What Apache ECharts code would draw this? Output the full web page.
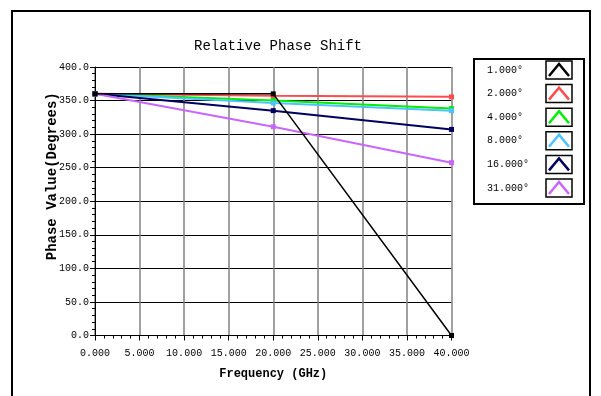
<!DOCTYPE html>
<html>
<head>
<meta charset="utf-8">
<script src="https://cdn.jsdelivr.net/npm/echarts@6/dist/echarts.min.js"></script>
<style>
html,body{margin:0;padding:0;background:#fff;}
#chart{width:601px;height:396px;}
</style>
</head>
<body>
<div id="chart"></div>
<script>
// ---- data ----
const frequency = [0, 20, 40];
const seriesNames = ['1.000°', '2.000°', '4.000°', '8.000°', '16.000°', '31.000°'];
const seriesColors = ['#000000', '#ff4d4d', '#00ee00', '#4cc3ff', '#00005e', '#c866ff'];
const phase1 = [360, 360, 0];
const phase2 = [360, 357, 355.5];
const phase4 = [360, 350, 338];
const phase8 = [360, 346.5, 335];
const phase16 = [360, 335, 307];
const phase31 = [360, 311, 257.5];
const seriesValues = [phase1, phase2, phase4, phase8, phase16, phase31];
const titleText = 'Relative Phase Shift';
const xName = 'Frequency (GHz)';
const yName = 'Phase Value(Degrees)';

const MONO = '"Liberation Mono", "DejaVu Sans Mono", monospace';

const series = seriesNames.map((name, i) => ({
  name: name,
  type: 'line',
  data: frequency.map((f, j) => [f, seriesValues[i][j]]),
  symbol: 'rect',
  symbolSize: 5,
  showAllSymbol: true,
  z: i === 0 ? 5 : 3,
  lineStyle: { color: seriesColors[i], width: i === 0 ? 1.5 : 2 },
  itemStyle: { color: seriesColors[i] },
  emphasis: { disabled: true }
}));

// legend built as graphics from the names/colors arrays
const legendGraphics = [];
const lgX = 474, lgY = 59, lgW = 110, lgH = 145;
legendGraphics.push({
  type: 'rect', shape: { x: lgX, y: lgY, width: lgW, height: lgH },
  style: { fill: '#fff', stroke: '#000', lineWidth: 2 }, z: 10
});
seriesNames.forEach((name, i) => {
  const cy = 70 + i * 23.6;
  legendGraphics.push({
    type: 'text', x: 487, y: cy, z: 11,
    style: { text: name, font: '10px ' + MONO, fill: '#000', verticalAlign: 'middle', align: 'left' }
  });
  legendGraphics.push({
    type: 'rect', shape: { x: 546, y: cy - 9, width: 26, height: 18 }, z: 11,
    style: { fill: '#fff', stroke: '#000', lineWidth: 1.5 }
  });
  legendGraphics.push({
    type: 'polyline', shape: { points: [[549, cy + 6], [559, cy - 6], [569, cy + 6]] }, z: 12,
    style: { fill: 'none', stroke: seriesColors[i], lineWidth: 2.5 }
  });
});

const option = {
  animation: false,
  backgroundColor: '#fff',
  title: {
    text: titleText,
    left: 273, top: 34, textAlign: 'center',
    textStyle: { fontFamily: MONO, fontSize: 14, fontWeight: 'normal', color: '#000' }
  },
  grid: { left: 95, top: 67, width: 356.5, height: 268.5, containLabel: false },
  xAxis: {
    type: 'value', min: 0, max: 40, interval: 5,
    name: xName, nameLocation: 'middle', nameGap: 32, nameMoveOverlap: false,
    nameTextStyle: { fontFamily: MONO, fontSize: 12, fontWeight: 'bold', color: '#000' },
    axisLine: { show: true, lineStyle: { color: '#000', width: 1 } },
    axisTick: { show: true, length: 5, lineStyle: { color: '#000' } },
    minorTick: { show: true, splitNumber: 5, length: 3, lineStyle: { color: '#000' } },
    axisLabel: { fontFamily: MONO, fontSize: 10, color: '#000', margin: 13,
      formatter: v => v.toFixed(3) },
    splitLine: { show: true, lineStyle: { color: '#808080', width: 1.5 } }
  },
  yAxis: {
    type: 'value', min: 0, max: 400, interval: 50,
    name: yName, nameLocation: 'middle', nameGap: 36, nameRotate: 90, nameMoveOverlap: false,
    nameTextStyle: { fontFamily: MONO, fontSize: 14, fontWeight: 'bold', color: '#000',
      padding: [0, 0, 0, 50] },
    axisLine: { show: true, lineStyle: { color: '#000', width: 1 } },
    axisTick: { show: true, length: 5, lineStyle: { color: '#000' } },
    minorTick: { show: true, splitNumber: 5, length: 3, lineStyle: { color: '#000' } },
    axisLabel: { fontFamily: MONO, fontSize: 10, color: '#000', margin: 6,
      formatter: v => v.toFixed(1) },
    splitLine: { show: true, lineStyle: { color: '#000', width: 1 } }
  },
  series: series,
  graphic: [
    { type: 'rect', shape: { x: 12, y: 11, width: 578, height: 420 },
      style: { fill: 'none', stroke: '#000', lineWidth: 2 }, z: 10 }
  ].concat(legendGraphics)
};

const chart = echarts.init(document.getElementById('chart'), null, { renderer: 'canvas' });
chart.setOption(option);
</script>
</body>
</html>
